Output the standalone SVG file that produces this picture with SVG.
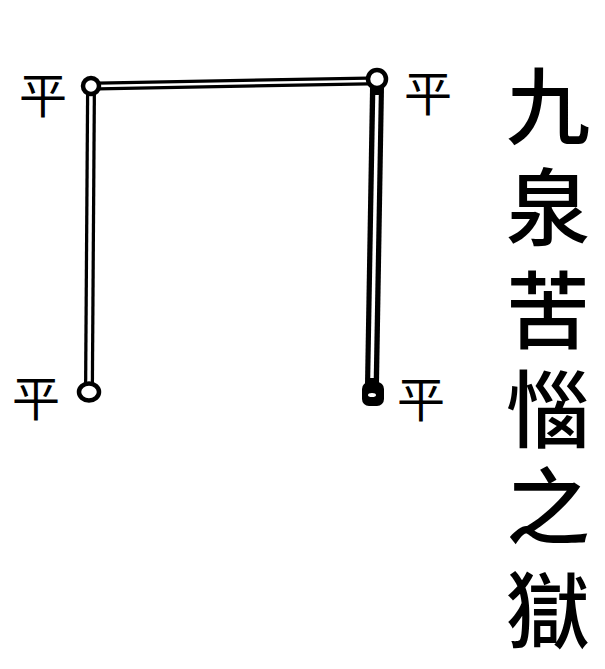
<svg xmlns="http://www.w3.org/2000/svg" width="605" height="669" viewBox="0 0 605 669">
<style>
.lbl{font-family:"Noto Sans CJK TC","Noto Sans CJK SC",sans-serif;font-size:48px;fill:#000;text-anchor:middle;dominant-baseline:central}
.ttl{font-family:"Noto Sans CJK TC","Noto Sans CJK SC",sans-serif;font-size:84px;font-weight:500;fill:#000;text-anchor:middle;dominant-baseline:central}
.outer{stroke:#000;fill:none;stroke-linecap:butt}
.inner{stroke:#fff;fill:none;stroke-linecap:butt}
.ring{fill:#fff;stroke:#000;stroke-width:4.5}
</style>
<rect width="605" height="669" fill="#fff"/>
<g id="connectors">
  <line class="outer" x1="91" y1="92" x2="89" y2="384" stroke-width="10"/>
  <line class="inner" x1="91" y1="92" x2="89" y2="384" stroke-width="3.5"/>
  <line class="outer" x1="98" y1="86" x2="368" y2="81" stroke-width="9"/>
  <line class="inner" x1="98" y1="86" x2="368" y2="81" stroke-width="2.5"/>
  <line class="outer" x1="377" y1="88" x2="372" y2="384" stroke-width="14"/>
  <line class="inner" x1="377" y1="95" x2="372" y2="378" stroke-width="3.5"/>
</g>
<g id="node-tl"><circle class="ring" cx="91" cy="86" r="8"/></g>
<g id="node-tr"><circle class="ring" cx="377" cy="79" r="9" stroke-width="5.5"/></g>
<g id="node-bl"><ellipse class="ring" cx="89" cy="392" rx="10" ry="8.5"/></g>
<g id="node-br"><rect x="362" y="382" width="22" height="24" rx="7" fill="#000"/><ellipse cx="372" cy="395" rx="4" ry="2" fill="#fff"/></g>
<g id="labels">
  <text class="lbl" x="43" y="92">平</text>
  <text class="lbl" x="428" y="90">平</text>
  <text class="lbl" x="36" y="395">平</text>
  <text class="lbl" x="421" y="396">平</text>
</g>
<g id="title">
  <text class="ttl" x="548" y="101">九</text>
  <text class="ttl" x="548" y="202">泉</text>
  <text class="ttl" x="548" y="305">苦</text>
  <text class="ttl" x="548" y="404">惱</text>
  <text class="ttl" x="548" y="501">之</text>
  <text class="ttl" x="548" y="605">獄</text>
</g>
</svg>
